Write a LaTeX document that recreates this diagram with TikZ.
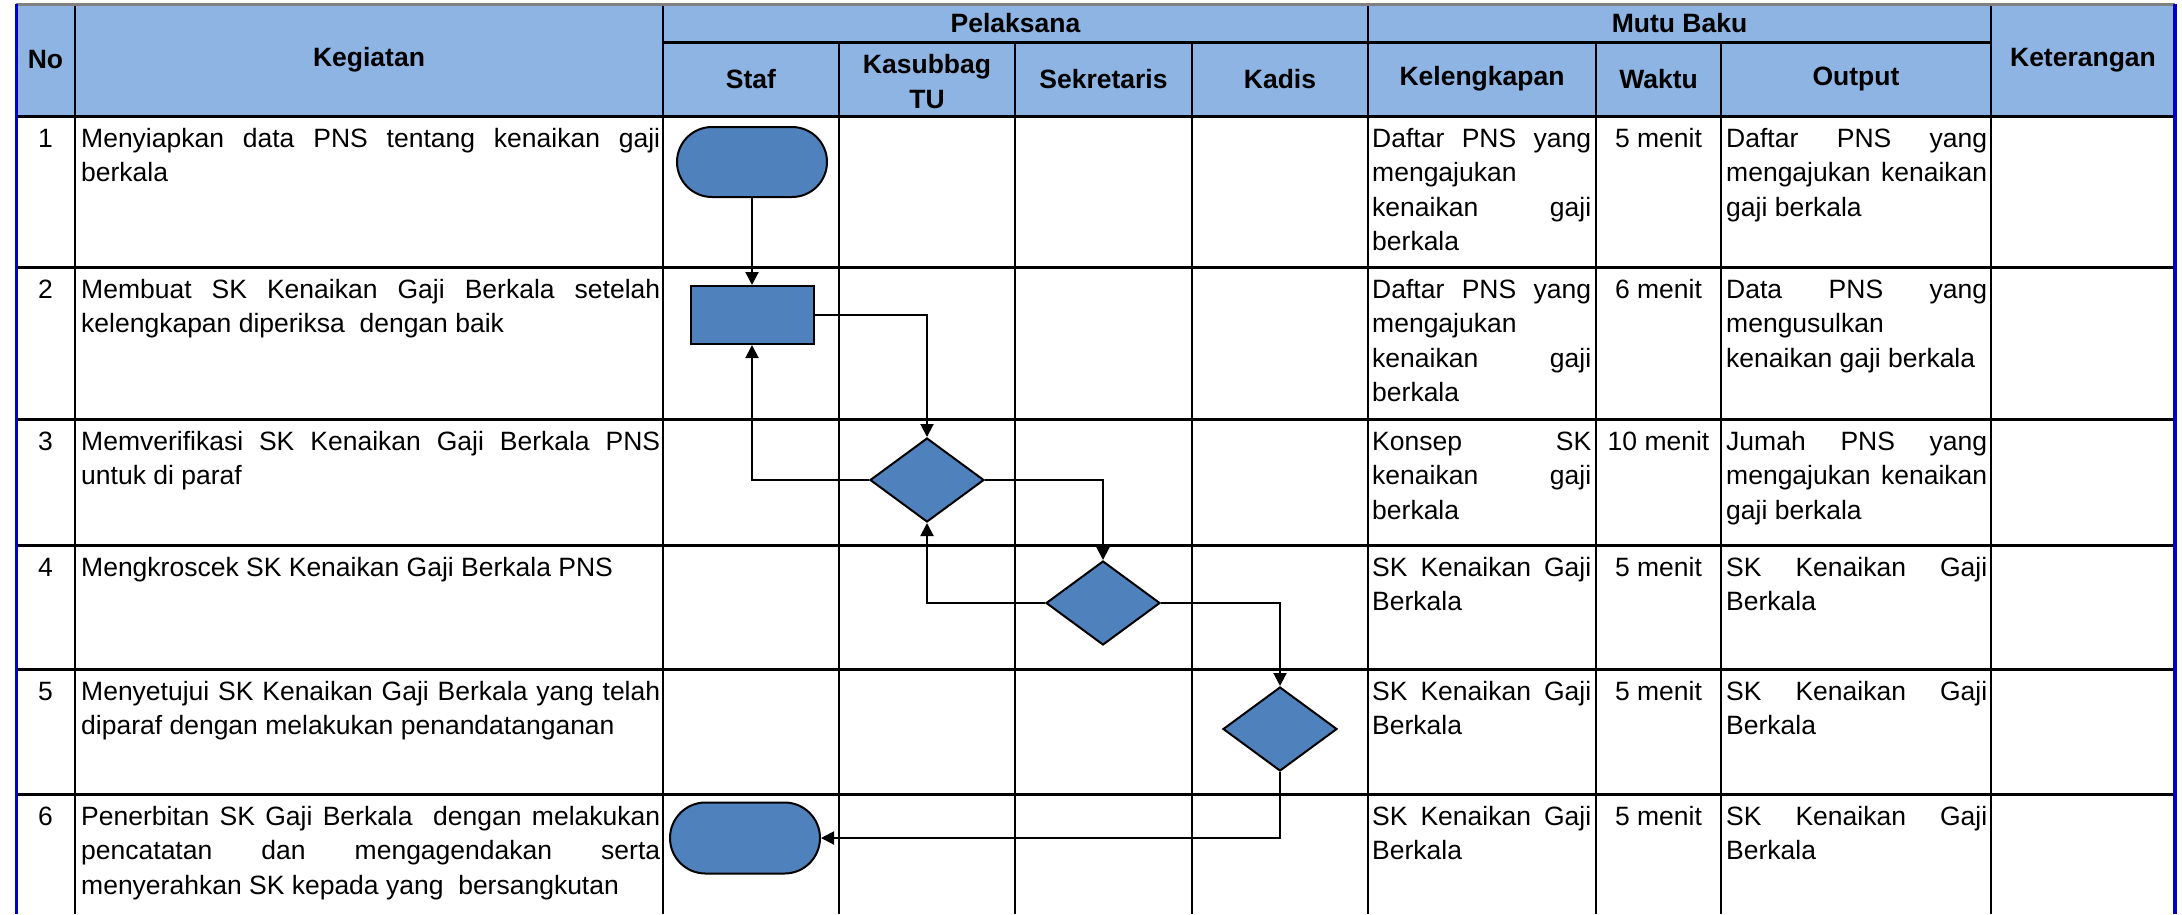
\documentclass[tikz,border=0pt]{standalone}
\usepackage{fontspec}
\setmainfont{Liberation Sans}
\usetikzlibrary{arrows.meta, shapes.misc, shapes.geometric}

\definecolor{hdrblue}{RGB}{141,180,226}
\definecolor{shpblue}{RGB}{79,129,189}
\definecolor{edgeblue}{RGB}{0,0,204}
\tolerance=10000
\hyphenpenalty=10000

\begin{document}
\begin{tikzpicture}[x=1pt, y=-1pt, >={Triangle[length=13pt,width=13pt]}]
\tikzstyle{every node}=[inner sep=0pt, font=\fontsize{26.5}{34.5}\selectfont];
\tikzstyle{hd}=[font=\fontsize{26.5}{35}\selectfont\bfseries, align=center];
\tikzstyle{num}=[anchor=base];
\tikzstyle{kegtxt}=[anchor=base west, align=justify, text width=579pt];
\tikzstyle{keltxt}=[anchor=base west, align=justify, text width=219pt];
\tikzstyle{outtxt}=[anchor=base west, align=justify, text width=261pt];
\tikzstyle{col}=[line width=2.5pt];
\tikzstyle{row}=[line width=3pt];
\tikzstyle{term}=[rounded rectangle, draw, line width=2pt, fill=shpblue, minimum width=150pt, minimum height=70pt];
\tikzstyle{proc}=[rectangle, draw, line width=2pt, fill=shpblue, minimum width=123pt, minimum height=58pt];
\tikzstyle{dec}=[diamond, draw, line width=2pt, fill=shpblue, aspect=1.34, minimum width=114pt, minimum height=84pt];
\tikzstyle{flow}=[->, line width=2pt];

\useasboundingbox (0,0) rectangle (2182,914);
\fill[hdrblue] (16,4) rectangle (2175,116);

% grid
\foreach \x in {75,663,1368,1991} \draw[col] (\x,4) -- (\x,914);
\foreach \x in {839,1015,1192,1596,1721} \draw[col] (\x,42) -- (\x,914);
\foreach \y in {116,267,419,545,669,794} \draw[row] (16,\y) -- (2175,\y);
\draw[row] (663,42) -- (1991,42);
\draw[line width=3pt, gray] (16,4) -- (2175,4);
\draw[line width=3pt, edgeblue] (16,4) -- (16,914);
\draw[line width=3.5pt, edgeblue] (2175,4) -- (2175,914);

% header
\node[hd] (hno) at (45.5,60) {No};
\node[hd] (hkeg) at (369,60) {Kegiatan};
\node[hd] (hpel) at (1015.5,23) {Pelaksana};
\node[hd] (hmutu) at (1679.5,23) {Mutu Baku};
\node[hd] (hket) at (2083,60) {Keterangan};
\node[hd] (hstaf) at (751,79) {Staf};
\node[hd] (hkasub) at (927,81.5) {Kasubbag\\TU};
\node[hd] (hsekr) at (1103.5,79) {Sekretaris};
\node[hd] (hkadis) at (1280,79) {Kadis};
\node[hd] (hkel) at (1482,79) {Kelengkapan};
\node[hd] (hwkt) at (1658.5,79) {Waktu};
\node[hd] (hout) at (1856,79) {Output};

% rows
\node[num] (no1) at (45.5,147) {1};
\node[kegtxt] (keg1) at (81,147) {Menyiapkan data PNS tentang kenaikan gaji\linebreak berkala};
\node[keltxt] (kel1) at (1372,147) {Daftar PNS yang\linebreak mengajukan\linebreak kenaikan gaji\linebreak berkala};
\node[num] (wkt1) at (1658.5,147) {5 menit};
\node[outtxt] (out1) at (1726,147) {Daftar PNS yang\linebreak mengajukan kenaikan\linebreak gaji berkala};

\node[num] (no2) at (45.5,298) {2};
\node[kegtxt] (keg2) at (81,298) {Membuat SK Kenaikan Gaji Berkala setelah\linebreak kelengkapan diperiksa \ dengan baik};
\node[keltxt] (kel2) at (1372,298) {Daftar PNS yang\linebreak mengajukan\linebreak kenaikan gaji\linebreak berkala};
\node[num] (wkt2) at (1658.5,298) {6 menit};
\node[outtxt] (out2) at (1726,298) {Data PNS yang\linebreak mengusulkan\linebreak kenaikan gaji berkala};

\node[num] (no3) at (45.5,450) {3};
\node[kegtxt] (keg3) at (81,450) {Memverifikasi SK Kenaikan Gaji Berkala PNS\linebreak untuk di paraf};
\node[keltxt] (kel3) at (1372,450) {Konsep SK\linebreak kenaikan gaji\linebreak berkala};
\node[num] (wkt3) at (1658.5,450) {10 menit};
\node[outtxt] (out3) at (1726,450) {Jumah PNS yang\linebreak mengajukan kenaikan\linebreak gaji berkala};

\node[num] (no4) at (45.5,576) {4};
\node[kegtxt] (keg4) at (81,576) {Mengkroscek SK Kenaikan Gaji Berkala PNS};
\node[keltxt] (kel4) at (1372,576) {SK Kenaikan Gaji\linebreak Berkala};
\node[num] (wkt4) at (1658.5,576) {5 menit};
\node[outtxt] (out4) at (1726,576) {SK Kenaikan Gaji\linebreak Berkala};

\node[num] (no5) at (45.5,700) {5};
\node[kegtxt] (keg5) at (81,700) {Menyetujui SK Kenaikan Gaji Berkala yang telah\linebreak diparaf dengan melakukan penandatanganan};
\node[keltxt] (kel5) at (1372,700) {SK Kenaikan Gaji\linebreak Berkala};
\node[num] (wkt5) at (1658.5,700) {5 menit};
\node[outtxt] (out5) at (1726,700) {SK Kenaikan Gaji\linebreak Berkala};

\node[num] (no6) at (45.5,825) {6};
\node[kegtxt] (keg6) at (81,825) {Penerbitan SK Gaji Berkala \ dengan melakukan\linebreak pencatatan dan mengagendakan serta\linebreak menyerahkan SK kepada yang \ bersangkutan};
\node[keltxt] (kel6) at (1372,825) {SK Kenaikan Gaji\linebreak Berkala};
\node[num] (wkt6) at (1658.5,825) {5 menit};
\node[outtxt] (out6) at (1726,825) {SK Kenaikan Gaji\linebreak Berkala};

% flow
\node[term] (beg) at (752,162) {};
\node[proc] (act) at (752,315) {};
\node[dec] (chk1) at (927,480) {};
\node[dec] (chk2) at (1103,603) {};
\node[dec] (chk3) at (1280,729) {};
\node[term, minimum height=71pt] (fin) at (745,838) {};

\draw[flow] (beg.south) -- (act.north);
\draw[flow] (act.east) -| (chk1.north);
\draw[flow] (chk1.west) -| (act.south);
\draw[flow] (chk1.east) -| (chk2.north);
\draw[flow] (chk2.west) -| (chk1.south);
\draw[flow] (chk2.east) -| (chk3.north);
\draw[flow] (chk3.south) |- (fin.east);
\end{tikzpicture}
\end{document}
